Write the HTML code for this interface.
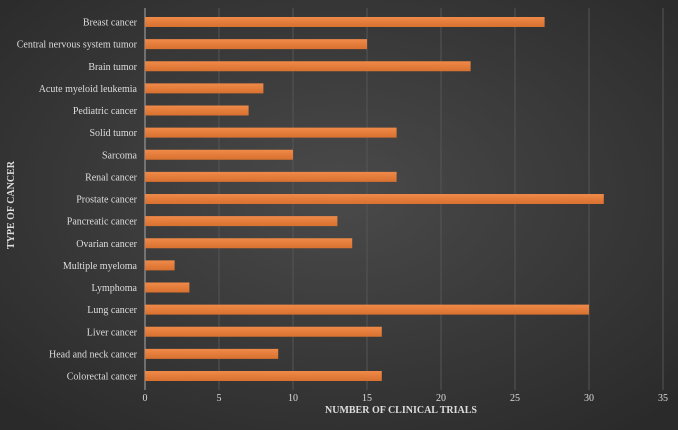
<!DOCTYPE html>
<html><head><meta charset="utf-8"><style>
body{margin:0;width:678px;height:430px;overflow:hidden;background:#333}
svg{display:block;font-family:"Liberation Serif",serif}
</style></head><body>
<svg width="678" height="430">
<defs>
<radialGradient id="bg" cx="50%" cy="45%" r="70%">
<stop offset="0" stop-color="#4a4a4a"/><stop offset="1" stop-color="#2a2a2a"/>
</radialGradient>
<linearGradient id="bar" x1="0" y1="0" x2="0" y2="1">
<stop offset="0" stop-color="#f08a48"/><stop offset="1" stop-color="#d8702f"/>
</linearGradient>
</defs>
<rect width="678" height="430" fill="url(#bg)"/>
<g id="grid"></g><g id="bars"></g><g id="labels"></g><g id="ticks"></g>
<text x="401" y="413" fill="#ddd" font-size="10" font-weight="bold" text-anchor="middle">NUMBER OF CLINICAL TRIALS</text>
<text transform="translate(14,205) rotate(-90)" fill="#ddd" font-size="10" font-weight="bold" text-anchor="middle">TYPE OF CANCER</text>
</svg>
<script>
const categories=["Breast cancer","Central nervous system tumor","Brain tumor","Acute myeloid leukemia","Pediatric cancer","Solid tumor","Sarcoma","Renal cancer","Prostate cancer","Pancreatic cancer","Ovarian cancer","Multiple myeloma","Lymphoma","Lung cancer","Liver cancer","Head and neck cancer","Colorectal cancer"];
const values=[27,15,22,8,7,17,10,17,31,13,14,2,3,30,16,9,16];
const tickLabels=[0,5,10,15,20,25,30,35];
const NS="http://www.w3.org/2000/svg";
const x0=145,x1=663,xmax=35,yTop=22,step=22.125,bh=10;
const xs=v=>x0+(x1-x0)*v/xmax;
const ys=i=>yTop+i*step;
function mk(t,a,p){const e=document.createElementNS(NS,t);for(const k in a)e.setAttribute(k,a[k]);p.appendChild(e);return e;}
const grid=document.getElementById('grid'),bars=document.getElementById('bars'),labels=document.getElementById('labels'),ticks=document.getElementById('ticks');
tickLabels.forEach((t,i)=>{
  const l=mk('line',{x1:xs(t),x2:xs(t),y1:8,y2:390,stroke:i===0?'#aaa':'#555','stroke-width':1},grid);
  
  
  const tx=mk('text',{x:xs(t),y:401,fill:'#ddd','font-size':10,'text-anchor':'middle'},ticks);
  tx.textContent=t;
  
  
});
categories.forEach((c,i)=>{
  const r=mk('rect',{x:x0,y:ys(i)-bh/2,width:xs(values[i])-x0,height:bh,fill:'url(#bar)'},bars);
  
  
  const t=mk('text',{x:137,y:ys(i)+3.5,fill:'#ddd','font-size':10,'text-anchor':'end'},labels);
  t.textContent=c;
  
  
});
</script>
</body></html>
